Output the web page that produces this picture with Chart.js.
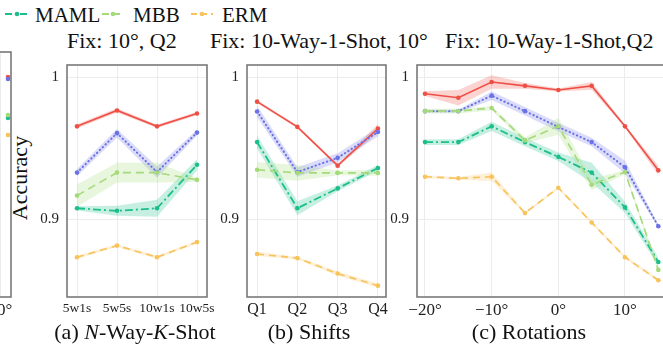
<!DOCTYPE html>
<html>
<head>
<meta charset="utf-8">
<script src="https://cdn.jsdelivr.net/npm/chart.js@4.4.0/dist/chart.umd.min.js"></script>
<style>
    body { margin: 0; width: 663px; height: 347px; overflow: hidden; background: #fff; position: relative;
           font-family: 'Liberation Serif', 'Times New Roman', serif; color: #111; }
    canvas { position: absolute; }
    .txt { position: absolute; white-space: nowrap; line-height: 1; }
    .legend svg { position: absolute; }
</style>
</head>
<body>
<div class="legend">
    <svg style="left:5px;top:9px" width="24" height="10"><line x1="0" y1="5" x2="24" y2="5" stroke="#1cbf8c" stroke-width="2" stroke-dasharray="7,3,2,3"/><circle cx="12" cy="5" r="2.3" fill="#1cbf8c"/></svg>
    <div class="txt" style="left:35px;top:5px;font-size:21px">MAML</div>
    <svg style="left:102px;top:9px" width="22" height="10"><line x1="0" y1="5" x2="22" y2="5" stroke="#a5da7a" stroke-width="2" stroke-dasharray="7,4"/><circle cx="11" cy="5" r="2.3" fill="#a5da7a"/></svg>
    <div class="txt" style="left:133px;top:5px;font-size:21px">MBB</div>
    <svg style="left:191px;top:9px" width="22" height="10"><line x1="0" y1="5" x2="22" y2="5" stroke="#f8c35b" stroke-width="2" stroke-dasharray="6,4"/><circle cx="11" cy="5" r="2.3" fill="#f8c35b"/></svg>
    <div class="txt" style="left:222px;top:5px;font-size:21px">ERM</div>
</div>

<div class="txt" style="left:67px;top:30px;font-size:22px">Fix: 10°, Q2</div>
<div class="txt" style="left:210px;top:30px;font-size:22px">Fix: 10-Way-1-Shot, 10°</div>
<div class="txt" style="left:445px;top:30px;font-size:22px">Fix: 10-Way-1-Shot,Q2</div>

<div class="txt" style="left:20px;top:178px;font-size:22px;transform:translate(-50%,-50%) rotate(-90deg)">Accuracy</div>

<canvas id="edge-chart" width="352" height="275" style="left:-335px;top:48px"></canvas>
<canvas id="shot-chart" width="196" height="275" style="left:31px;top:48px"></canvas>
<canvas id="shift-chart" width="195" height="275" style="left:211px;top:48px"></canvas>
<canvas id="rot-chart" width="299" height="275" style="left:381px;top:48px"></canvas>

<div class="txt" style="left:135px;top:321px;font-size:22px;transform:translateX(-50%)">(a) <i>N</i>-Way-<i>K</i>-Shot</div>
<div class="txt" style="left:309px;top:321px;font-size:22px;transform:translateX(-50%)">(b) Shifts</div>
<div class="txt" style="left:529px;top:321px;font-size:22px;transform:translateX(-50%)">(c) Rotations</div>

<script>
// ---- data ----
const yTickVals = [0.9, 1];
const yTickText = ['0.9', '1'];
const yRange = [0.8453, 1.0087];

// (a) N-Way-K-Shot
const shotLabels = ['5w1s', '5w5s', '10w1s', '10w5s'];
const shotX = [0, 1, 2, 3];
const shotRed = [0.9655, 0.9767, 0.9655, 0.9745];
const shotRedSd = [0.0015, 0.0015, 0.0012, 0.0012];
const shotBlue = [0.9329, 0.9607, 0.9333, 0.9611];
const shotBlueSd = [0.0025, 0.003, 0.004, 0.002];
const shotMBB = [0.9167, 0.9329, 0.9329, 0.9278];
const shotMBBSd = [0.0078, 0.007, 0.007, 0.0015];
const shotMAML = [0.9078, 0.9060, 0.9078, 0.9384];
const shotMAMLSd = [0.0015, 0.0035, 0.006, 0.004];
const shotERM = [0.8733, 0.8815, 0.8733, 0.8840];
const shotERMSd = [0.001, 0.001, 0.001, 0.001];

// (b) Shifts
const shiftLabels = ['Q1', 'Q2', 'Q3', 'Q4'];
const shiftX = [0, 1, 2, 3];
const shiftRed = [0.9829, 0.9651, 0.9378, 0.9640];
const shiftRedSd = [0.001, 0.001, 0.001, 0.003];
const shiftBlue = [0.9760, 0.9333, 0.9433, 0.9615];
const shiftBlueSd = [0.004, 0.0033, 0.0033, 0.003];
const shiftMBB = [0.9349, 0.9327, 0.9327, 0.9327];
const shiftMBBSd = [0.0055, 0.0055, 0.0017, 0.002];
const shiftMAML = [0.9544, 0.9078, 0.9218, 0.9362];
const shiftMAMLSd = [0.0045, 0.005, 0.002, 0.002];
const shiftERM = [0.8756, 0.8727, 0.8618, 0.8533];
const shiftERMSd = [0.0015, 0.001, 0.0015, 0.0015];

// (c) Rotations
const rotX = [-20, -15, -10, -5, 0, 5, 10, 15];
const rotTickVals = [-20, -10, 0, 10];
const rotTickText = ['\u221220°', '\u221210°', '0°', '10°'];
const rotRed = [0.9885, 0.9856, 0.9967, 0.9940, 0.9911, 0.9940, 0.9655, 0.9345];
const rotRedSd = [0.0017, 0.0055, 0.0047, 0.002, 0.001, 0.0027, 0.001, 0.0033];
const rotBlue = [0.9762, 0.9762, 0.9871, 0.9762, 0.9651, 0.9544, 0.9367, 0.8951];
const rotBlueSd = [0.001, 0.001, 0.003, 0.003, 0.003, 0.003, 0.0045, 0.001];
const rotMBB = [0.9762, 0.9762, 0.9784, 0.9556, 0.9655, 0.9244, 0.9333, 0.8644];
const rotMBBSd = [0.0017, 0.0017, 0.0015, 0.002, 0.006, 0.004, 0.0015, 0.002];
const rotMAML = [0.9544, 0.9544, 0.9655, 0.9544, 0.9440, 0.9329, 0.9084, 0.8700];
const rotMAMLSd = [0.002, 0.002, 0.0033, 0.003, 0.003, 0.007, 0.004, 0.003];
const rotERM = [0.9300, 0.9289, 0.9300, 0.9044, 0.9222, 0.8978, 0.8733, 0.8571];
const rotERMSd = [0.001, 0.001, 0.003, 0.001, 0.001, 0.001, 0.001, 0.001];

// cropped neighbour panel on the far left (only its last points show)
const edgeX = [10.25];
const edgeTickVals = [10];
const edgeTickText = ['10°'];
const edgeRed = [0.992];
const edgeBlue = [0.9907];
const edgeMBB = [0.9667];
const edgeMAML = [0.9647];
const edgeERM = [0.9533];

// ---- styles ----
const FONT = "'Liberation Serif', 'Times New Roman', serif";
const styles = {
    red:  { color: '239, 80, 70',   dash: [],         width: 1.6 },
    blue: { color: '106, 114, 230', dash: [0.5, 3.5], width: 2 },
    mbb:  { color: '165, 218, 122', dash: [8, 5],     width: 1.6 },
    maml: { color: '28, 191, 140',  dash: [8, 3, 2, 3], width: 1.8 },
    erm:  { color: '248, 195, 91',  dash: [7, 5],     width: 1.6 }
};

// box round the plot area
const framePlugin = {
    id: 'frame',
    afterDraw(chart) {
        const { ctx, chartArea: a } = chart;
        ctx.save();
        ctx.strokeStyle = '#707070';
        ctx.lineWidth = 1.5;
        ctx.strokeRect(a.left, a.top, a.right - a.left, a.bottom - a.top);
        ctx.restore();
    }
};

function buildSets(xs, series) {
    const sets = [];
    series.forEach(([key, ys, sd]) => {
        const st = styles[key];
        if (sd) {
            sets.push({
                data: xs.map((x, i) => ({ x, y: ys[i] - sd[i] })),
                borderWidth: 0, pointRadius: 0, fill: false, order: 2
            });
            sets.push({
                data: xs.map((x, i) => ({ x, y: ys[i] + sd[i] })),
                borderWidth: 0, pointRadius: 0, fill: '-1', order: 2,
                backgroundColor: `rgba(${st.color}, 0.25)`
            });
        }
        sets.push({
            data: xs.map((x, i) => ({ x, y: ys[i] })),
            borderColor: `rgb(${st.color})`,
            borderWidth: st.width,
            borderDash: st.dash,
            borderCapStyle: key === 'blue' ? 'round' : 'butt',
            pointRadius: 2.3,
            pointBorderWidth: 0,
            pointBackgroundColor: `rgb(${st.color})`,
            fill: false,
            tension: 0,
            order: 1
        });
    });
    return sets;
}

function makePanel(id, opts) {
    const ctx = document.getElementById(id);
    if (!ctx) return;
    return new Chart(ctx, {
        type: 'line',
        data: { datasets: buildSets(opts.xs, opts.series) },
        options: {
            responsive: false,
            animation: false,
            devicePixelRatio: 1,
            layout: { padding: { top: 4, right: opts.padRight, left: 0, bottom: 0 } },
            plugins: { legend: { display: false }, tooltip: { enabled: false } },
            scales: {
                x: {
                    type: 'linear',
                    min: opts.xMin,
                    max: opts.xMax,
                    afterBuildTicks: s => { s.ticks = opts.tickVals.map(v => ({ value: v })); },
                    afterFit: s => { s.height = 26; },
                    border: { display: false },
                    grid: { color: '#ececec', lineWidth: 1, drawTicks: false },
                    ticks: {
                        padding: 3,
                        maxRotation: 0,
                        autoSkip: false,
                        color: '#222',
                        font: { family: FONT, size: opts.xFont },
                        callback: (v, i) => opts.tickText[i]
                    }
                },
                y: {
                    display: opts.showY !== false,
                    min: yRange[0],
                    max: yRange[1],
                    afterBuildTicks: s => { s.ticks = yTickVals.map(v => ({ value: v })); },
                    afterFit: s => { s.width = 36; },
                    border: { display: false },
                    grid: { color: '#ececec', lineWidth: 1, drawTicks: false },
                    ticks: {
                        padding: 8,
                        color: '#222',
                        font: { family: FONT, size: 15 },
                        callback: (v, i) => yTickText[i]
                    }
                }
            }
        },
        plugins: [framePlugin]
    });
}

makePanel('shot-chart', {
    xs: shotX, xMin: -0.25, xMax: 3.25, tickVals: shotX, tickText: shotLabels, xFont: 13.5, padRight: 20,
    series: [['erm', shotERM, shotERMSd], ['mbb', shotMBB, shotMBBSd], ['maml', shotMAML, shotMAMLSd],
             ['blue', shotBlue, shotBlueSd], ['red', shotRed, shotRedSd]]
});

makePanel('shift-chart', {
    xs: shiftX, xMin: -0.25, xMax: 3.2, tickVals: shiftX, tickText: shiftLabels, xFont: 16, padRight: 20,
    series: [['erm', shiftERM, shiftERMSd], ['mbb', shiftMBB, shiftMBBSd], ['maml', shiftMAML, shiftMAMLSd],
             ['blue', shiftBlue, shiftBlueSd], ['red', shiftRed, shiftRedSd]]
});

makePanel('rot-chart', {
    xs: rotX, xMin: -21.2, xMax: 16.75, tickVals: rotTickVals, tickText: rotTickText, xFont: 17, padRight: 10,
    series: [['erm', rotERM, rotERMSd], ['mbb', rotMBB, rotMBBSd], ['maml', rotMAML, rotMAMLSd],
             ['blue', rotBlue, rotBlueSd], ['red', rotRed, rotRedSd]]
});

makePanel('edge-chart', {
    xs: edgeX, xMin: 0, xMax: 10.35, tickVals: edgeTickVals, tickText: edgeTickText, xFont: 17, padRight: 6,
    showY: false,
    series: [['erm', edgeERM], ['mbb', edgeMBB], ['maml', edgeMAML], ['blue', edgeBlue], ['red', edgeRed]]
});
</script>
</body>
</html>
